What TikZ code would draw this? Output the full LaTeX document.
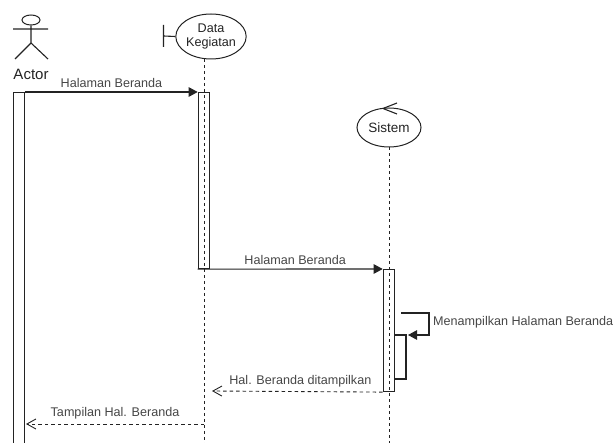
\documentclass[tikz,border=0pt]{standalone}
\usepackage{fontspec}
\setmainfont{Liberation Sans}
\usetikzlibrary{arrows.meta, positioning, shapes.geometric}

\definecolor{linegray}{RGB}{35,35,35}
\definecolor{textgray}{RGB}{70,70,70}

\tikzset{
	every node/.style={font=\fontsize{12.6}{14}\selectfont, text=textgray, inner sep=0pt},
	entity/.style={ellipse, draw=linegray, line width=1pt, text=linegray},
	activation/.style={draw=linegray, line width=1.1pt, minimum width=11.5pt, anchor=north},
	lifeline/.style={dash pattern=on 3pt off 3pt, line width=1pt, draw=linegray},
	msg/.style={-{Triangle[length=9pt, width=9.5pt]}, line width=1.1pt, draw=linegray},
	reply/.style={-{Straight Barb[length=9pt, width=10pt]}, dash pattern=on 3.5pt off 3pt, line width=0.9pt, draw=linegray},
	stick/.style={line width=1.1pt, draw=linegray},
}

\begin{document}
\begin{tikzpicture}[x=1pt, y=-1pt]
		
		\clip (0,0) rectangle (616,443);
		
		% actor
		\node[ellipse, draw=linegray, line width=1pt, minimum width=18pt, minimum height=10pt] (head) at (31,20) {};
		\coordinate (hip) at (31,43);
		\coordinate (armL) at (13,29);
		\coordinate (armR) at (48,29);
		\coordinate (legL) at (15,59);
		\coordinate (legR) at (48,59);
		\node[font=\fontsize{15}{16}\selectfont, text=linegray] (actor) at (31,74) {Actor};
		\draw[stick] (head.south) -- (hip) (armL) -- (armR) (legL) -- (hip) -- (legR);
		
		% entities
		\node[entity, minimum width=68pt, minimum height=45pt, align=center] (data) at (211,36.5) {Data\\Kegiatan};
		\node[entity, minimum width=64pt, minimum height=39pt, font=\fontsize{13.5}{15}\selectfont] (sistem) at (389,127.5) {Sistem};
		
		\coordinate (barT) at (163.5,25);
		\coordinate (barB) at (163.5,47);
		\coordinate (barM) at (163.5,36);
		\draw[stick] (barT) -- (barB) (barM) -- (data.west);
		
		\coordinate (chevT) at (397,103);
		\coordinate (chevB) at (397,114);
		\coordinate (chevM) at (383,108.5);
		\draw[stick] (chevT) -- (chevM) -- (chevB);
		
		% lifelines
		\coordinate (dataTop) at (204,59);
		\coordinate (dataEnd) at (204,443);
		\coordinate (sistemEnd) at (389,443);
		\draw[lifeline] (dataTop) -- (dataEnd);
		\draw[lifeline] (sistem.south) -- (sistemEnd);
		
		% activations
		\node[activation, minimum height=370pt] (actA) at (19,92) {};
		\node[activation, minimum height=176pt] (actB) at (204,92) {};
		\node[activation, minimum height=122pt] (actC) at (389,269) {};
		
		% messages
		\draw[msg] (actA.north east) -- node[above=4pt] (m1) {Halaman Beranda} (actB.north west);
		\draw[msg] (actB.south west) -- node[above=4pt, xshift=5pt] (m2) {Halaman Beranda} (actC.north west);
		
		\coordinate (selfA) at (401,313);
		\coordinate (selfB) at (429,313);
		\coordinate (selfC) at (429,335);
		\coordinate (selfD) at (408,335);
		\draw[msg] (selfA) -- (selfB) -- (selfC) -- (selfD);
		\node[right=4pt of selfB, yshift=-9pt] (selfLabel) {Menampilkan Halaman Beranda};
		
		\coordinate (backA) at (394.75,335);
		\coordinate (backB) at (406,335);
		\coordinate (backC) at (406,379);
		\coordinate (backD) at (394.75,379);
		\draw[stick] (backA) -- (backB) -- (backC) -- (backD);
		
		\coordinate (replyEnd) at (212,391);
		\draw[reply] (actC.south west) -- node[above=4pt, xshift=3pt] (m3) {Hal. Beranda ditampilkan} (replyEnd);
		
		\coordinate (tampilA) at (204,424);
		\coordinate (tampilB) at (26,424);
		\draw[reply] (tampilA) -- node[above=4pt] (m4) {Tampilan Hal. Beranda} (tampilB);
		
		\end{tikzpicture}
\end{document}
